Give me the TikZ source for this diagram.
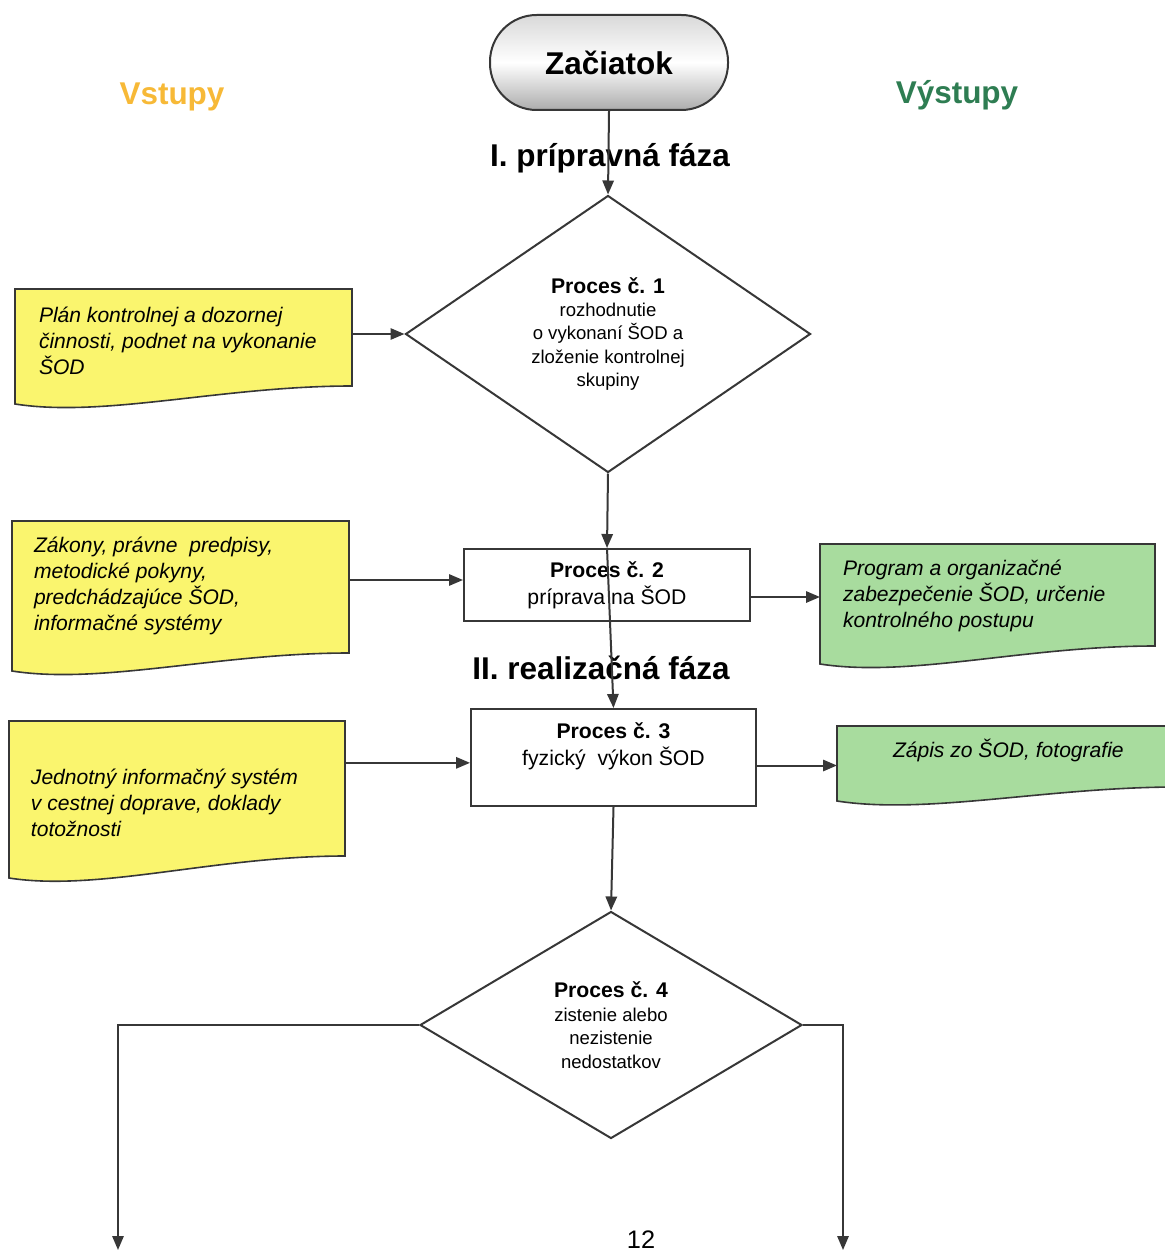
\documentclass[tikz,border=0pt]{standalone}
\usepackage{fontspec}
\setmainfont{Liberation Sans}
\usetikzlibrary{arrows.meta,shapes.geometric,calc}

\definecolor{docyellow}{RGB}{250,245,110}
\definecolor{docgreen}{RGB}{168,220,158}
\definecolor{vstupcolor}{RGB}{247,185,55}
\definecolor{vystupcolor}{RGB}{46,125,82}
\definecolor{linecolor}{RGB}{55,55,55}

\newcommand{\docfnt}{\fontsize{15.8}{19.5}\selectfont\itshape}
\newcommand{\procfnt}{\fontsize{13.9}{17.6}\selectfont}
\newcommand{\boxfnt}{\fontsize{15.9}{20.5}\selectfont}
\newcommand{\proctitle}[1]{{\fontsize{15.9}{18}\selectfont\bfseries #1}}
\newcommand{\fazafnt}{\fontsize{23.6}{28}\selectfont\bfseries}
% document shape with wavy bottom, drawn round an empty node
\newcommand{\docshape}[3]{\draw[draw=linecolor, line width=1.2pt, fill=#2] (#1.north west) -- (#1.north east) -- (#1.south east) .. controls +(-130,0) and +(90,14) .. ($(#1.south west)+(0,#3)$) -- cycle;}

\tikzset{every picture/.style={line width=1.5pt}}
\tikzset{
  conn/.style={draw=linecolor, line width=1.5pt, -{Triangle[length=10.5pt,width=8.5pt]}},
  startnode/.style={draw=linecolor, rectangle, rounded corners=35pt, minimum width=178.5pt, minimum height=71.25pt, top color=gray!30, bottom color=gray!65, middle color=white, font=\fazafnt},
  procbox/.style={draw=linecolor, rectangle, fill=white, inner sep=0pt, align=center, font=\boxfnt},
  decision/.style={draw=linecolor, diamond, fill=white, inner sep=0pt, align=center, font=\procfnt},
  docbox/.style={rectangle, inner sep=0pt},
  doctext/.style={anchor=north west, inner sep=0pt, align=left, font=\docfnt},
  fazatext/.style={inner sep=0pt, font=\fazafnt},
}

\begin{document}
\begin{tikzpicture}[x=0.75pt,y=0.75pt,yscale=-1,xscale=1]
\path[use as bounding box] (0,0) rectangle (1164,1252);

% Headings
\node[fazatext, text=vstupcolor] (vstupy) at (172,97) {Vstupy};
\node[fazatext, text=vystupcolor] (vystupy) at (957,95) {Výstupy};
\node[fazatext] (faza1) at (610,158) {I. prípravná fáza};
\node[fazatext] (faza2) at (601,668) {II. realizačná fáza};

% Start
\node[startnode] (start) at (609,62.5) {Začiatok};

% Processes
\node[decision, minimum width=303.75pt, minimum height=207.75pt] (d1) at (608,334) {\proctitle{Proces č. 1}\\rozhodnutie\\o vykonaní ŠOD a\\zloženie kontrolnej\\skupiny};
\node[procbox, minimum width=214.5pt, minimum height=54pt] (p2) at (607,585) {\textbf{Proces č. 2}\\príprava na ŠOD};
\node[procbox, minimum width=213.75pt, minimum height=72.75pt] (p3) at (613.5,757.5) {\textbf{Proces č. 3}\\fyzický\ \ výkon ŠOD\\\mbox{}};
\node[decision, minimum width=286.5pt, minimum height=170.25pt] (d4) at (611,1025) {\proctitle{Proces č. 4}\\zistenie alebo\\nezistenie\\nedostatkov};

% Inputs
\node[docbox, minimum width=251.25pt, minimum height=71.25pt] (in1) at (183.5,337.5) {};
\docshape{in1}{docyellow}{18}
\node[doctext] (in1t) at (38,306) {Plán kontrolnej a dozornej\\činnosti, podnet na vykonanie\\ŠOD};

\node[docbox, minimum width=251.25pt, minimum height=97.5pt] (in2) at (180.5,587) {};
\docshape{in2}{docyellow}{18}
\node[doctext] (in2t) at (33,536) {Zákony, právne\ \ predpisy,\\metodické pokyny,\\predchádzajúce ŠOD,\\informačné systémy};

\node[docbox, minimum width=250.5pt, minimum height=99.75pt] (in3) at (177,788.5) {};
\docshape{in3}{docyellow}{22}
\node[doctext] (in3t) at (30,768) {Jednotný informačný systém\\v cestnej doprave, doklady\\totožnosti};

% Outputs
\node[docbox, minimum width=249.75pt, minimum height=75pt] (out1) at (987.5,595) {};
\docshape{out1}{docgreen}{18}
\node[doctext] (out1t) at (842,559) {Program a organizačné\\zabezpečenie ŠOD, určenie\\kontrolného postupu};

\node[docbox, minimum width=254.25pt, minimum height=44.25pt] (out2) at (1007.5,756.5) {};
\docshape{out2}{docgreen}{14}
\node[doctext] (out2t) at (892,738) {Zápis zo ŠOD, fotografie};

% Free ends
\coordinate (endL) at (118,1250);
\coordinate (endR) at (843,1250);

% Connectors
\draw[conn] (start.south) -- (d1.north);
\draw[conn] (in1.east |- d1.west) -- (d1.west);
\draw[conn] (d1.south) -- (p2.north);
\draw[conn] ([yshift=-3.75pt]in2.east |- p2.west) -- ([yshift=-3.75pt]p2.west);
\draw[conn] ([yshift=9pt]p2.east) -- ([yshift=9pt]p2.east -| out1.west);
\draw[conn] (p2.north) -- (p3.north);
\draw[conn] ([yshift=4pt]in3.east |- p3.west) -- ([yshift=4pt]p3.west);
\draw[conn] ([yshift=6pt]p3.east) -- ([yshift=6pt]p3.east -| out2.west);
\draw[conn] (p3.south) -- (d4.north);
\draw[conn] (d4.west) -| (endL);
\draw[conn] (d4.east) -| (endR);

% Page number
\node[anchor=south, inner sep=0pt, font=\fontsize{19}{20}\selectfont] (pagenum) at (641,1249) {12};

\end{tikzpicture}
\end{document}
